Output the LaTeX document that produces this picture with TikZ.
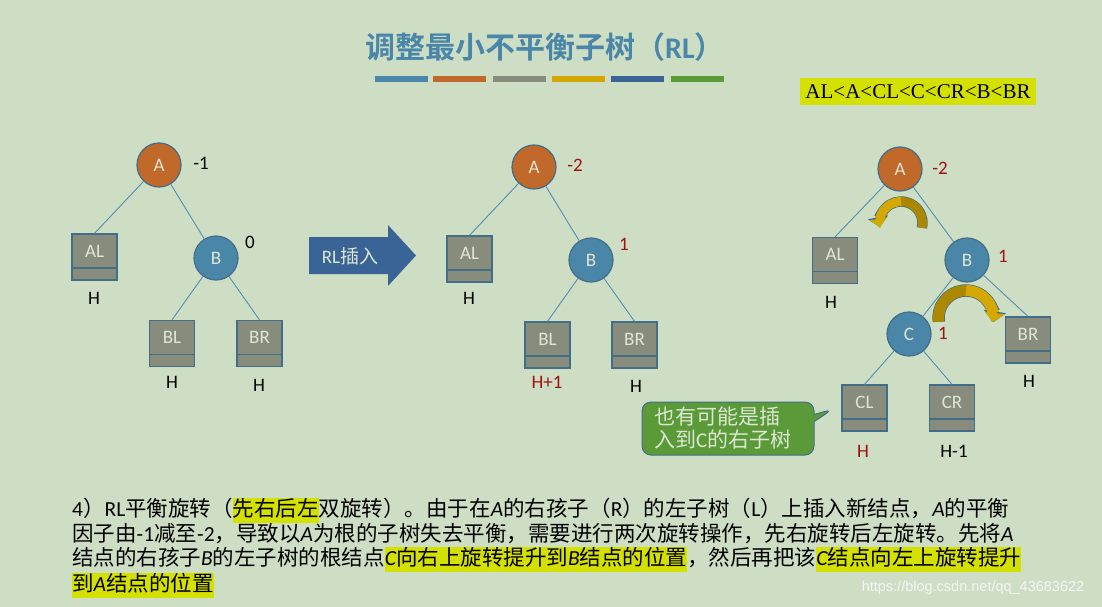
\documentclass[tikz,border=0pt]{standalone}
\usepackage{fontspec}
\setmainfont{Carlito}
\newfontfamily\cjk{Noto Sans CJK SC}[BoldFont={Noto Sans CJK SC Bold}]
\newfontfamily\timesf{Liberation Serif}
\newfontfamily\arialf{Liberation Sans}
\usetikzlibrary{shapes.callouts,arrows.meta}
\definecolor{bgsage}{RGB}{206,222,196}
\definecolor{aorange}{RGB}{192,105,42}
\definecolor{bblue}{RGB}{74,134,168}
\definecolor{nodeline}{RGB}{66,110,136}
\definecolor{linkblue}{RGB}{84,142,176}
\definecolor{boxgray}{RGB}{135,140,124}
\definecolor{nodetext}{RGB}{222,230,212}
\definecolor{darkred}{RGB}{160,16,16}
\definecolor{gold}{RGB}{212,168,0}
\definecolor{darkgold}{RGB}{172,136,0}
\definecolor{arrowblue}{RGB}{58,100,150}
\definecolor{notegreen}{RGB}{90,154,56}
\definecolor{hlyellow}{RGB}{212,224,0}
\definecolor{bargray}{RGB}{135,140,124}
\definecolor{bargreen}{RGB}{90,154,56}
\newcommand\la[1]{{\rmfamily #1}}
\newcommand\ia[1]{{\rmfamily\itshape #1}}
\setlength\fboxsep{0pt}
\newcommand\hl[1]{\colorbox{hlyellow}{\vrule height 18pt depth 7pt width 0pt#1}}
\begin{document}
\begin{tikzpicture}
  [x=1pt,y=1pt,
   tnode/.style={circle,draw=nodeline,line width=1.2pt,minimum size=44pt,inner sep=0pt,
     text=nodetext,font=\fontsize{19}{20}\selectfont},
   anode/.style={tnode,fill=aorange},
   bnode/.style={tnode,fill=bblue},
   subtree/.style={rectangle,draw=nodeline,line width=1.2pt,fill=boxgray,minimum width=45pt,
     inner sep=0pt,text height=23pt,text depth=23pt,text=nodetext,font=\fontsize{19}{20}\selectfont,
     path picture={\draw[nodeline,line width=1.2pt]
       ([yshift=12pt]path picture bounding box.south west) --
       ([yshift=12pt]path picture bounding box.south east);}},
   bf/.style={font=\fontsize{19}{20}\selectfont,text=black,inner sep=1pt},
   bfred/.style={bf,text=darkred},
   link/.style={draw=linkblue,line width=0.9pt},
   turnrim/.style={draw=nodeline,line width=#1+1.4pt},
   line/.style={anchor=base west,inner sep=0pt,text=black,
     font=\cjk\fontsize{21.5}{25}\selectfont}]
  \fill[bgsage] (0,0) rectangle (1102,-607);
  \useasboundingbox (0,0) rectangle (1102,-607);

  % title and bars
  \node[text=bblue,font=\cjk\bfseries\fontsize{30}{32}\selectfont] (title) at (545,-47)
    {调整最小不平衡子树（\la{\bfseries RL}）};
  \foreach \x/\c in {375/bblue,433/aorange,493/bargray,552/gold,611/arrowblue,671/bargreen}
    \fill[\c] (\x,-76) rectangle ++(53,-6);
  \node[fill=hlyellow,minimum width=236pt,minimum height=27pt,inner sep=0pt,
    font=\timesf\fontsize{21}{22}\selectfont] (order) at (918,-91.5) {AL<A<CL<C<CR<B<BR};

  % tree 1
  \node[anode] (a1) at (159,-165) {A};
  \node[bnode] (b1) at (216,-258) {B};
  \node[subtree] (al1) at (94.5,-257) {AL};
  \node[subtree] (bl1) at (172,-343.5) {BL};
  \node[subtree] (br1) at (259.5,-343.5) {BR};
  \node[bf] (fa1) at (201,-163) {-1};
  \node[bf] (fb1) at (250,-242) {0};
  \node[bf] (hal1) at (94,-298) {H};
  \node[bf] (hbl1) at (172,-382) {H};
  \node[bf] (hbr1) at (259,-385) {H};
  \draw[link] (a1) -- (al1.north);
  \draw[link] (a1) -- (b1);
  \draw[link] (b1) -- (bl1.north);
  \draw[link] (b1) -- (br1.north);

  % insert arrow
  \fill[arrowblue] (309,-237) -- (388,-237) -- (388,-225) -- (416,-255.5) -- (388,-286)
    -- (388,-274) -- (309,-274) -- cycle;
  \node[text=nodetext,font=\fontsize{19}{20}\selectfont] (ins) at (350,-256) {RL{\cjk 插入}};

  % tree 2
  \node[anode] (a2) at (534,-167) {A};
  \node[bnode] (b2) at (591,-260) {B};
  \node[subtree] (al2) at (469.5,-259) {AL};
  \node[subtree] (bl2) at (547.5,-345) {BL};
  \node[subtree] (br2) at (634.5,-345) {BR};
  \node[bfred] (fa2) at (575,-165) {-2};
  \node[bfred] (fb2) at (624,-244) {1};
  \node[bf] (hal2) at (469,-298) {H};
  \node[bfred] (hbl2) at (547,-382) {H+1};
  \node[bf] (hbr2) at (636,-386) {H};
  \draw[link] (a2) -- (al2.north);
  \draw[link] (a2) -- (b2);
  \draw[link] (b2) -- (bl2.north);
  \draw[link] (b2) -- (br2.north);

  % tree 3
  \node[anode] (a3) at (900,-169) {A};
  \node[bnode] (b3) at (967,-260) {B};
  \node[bnode] (c3) at (909,-334) {C};
  \node[subtree] (al3) at (835,-260.5) {AL};
  \node[subtree] (br3) at (1028,-340) {BR};
  \node[subtree] (cl3) at (864.5,-408) {CL};
  \node[subtree] (cr3) at (952,-408) {CR};
  \node[bfred] (fa3) at (940,-168) {-2};
  \node[bfred] (fb3) at (1003,-256) {1};
  \node[bfred] (fc3) at (943,-333) {1};
  \node[bf] (hal3) at (831,-302) {H};
  \node[bf] (hbr3) at (1029,-381) {H};
  \node[bfred] (hcl3) at (863,-451) {H};
  \node[bf] (hcr3) at (954,-451) {H-1};
  \draw[link] (a3) -- (al3.north);
  \draw[link] (a3) -- (b3);
  \draw[link] (b3) -- (c3);
  \draw[link] (b3) -- (br3.north);
  \draw[link] (c3) -- (cl3.north);
  \draw[link] (c3) -- (cr3.north);

  % rotation arrows
  \begin{scope}[shift={(901,-223)}]
    \draw[turnrim=9pt,-{Triangle[width=20pt,length=10pt]}] (-13:21.5) arc[start angle=-13,end angle=191,radius=21.5];
    \draw[darkgold,line width=9pt] (-13:21.5) arc[start angle=-13,end angle=91,radius=21.5];
    \draw[gold,line width=9pt,-{Triangle[width=17.5pt,length=8pt]}] (90:21.5) arc[start angle=90,end angle=190,radius=21.5];
  \end{scope}
  \begin{scope}[shift={(966,-318)}]
    \draw[turnrim=11pt,-{Triangle[width=22pt,length=11pt]}] (188:27.5) arc[start angle=188,end angle=-9,radius=27.5];
    \draw[darkgold,line width=11pt] (188:27.5) arc[start angle=188,end angle=89,radius=27.5];
    \draw[gold,line width=11pt,-{Triangle[width=19.5pt,length=9pt]}] (90:27.5) arc[start angle=90,end angle=-8,radius=27.5];
  \end{scope}

  % note
  \coordinate (tip) at (833,-409);
  \node[rectangle callout,callout absolute pointer={(tip)},rounded corners=9pt,
    fill=notegreen,draw=nodeline,line width=1pt,minimum width=172pt,minimum height=53pt,
    inner xsep=12pt,text width=148pt,text=nodetext,align=left,
    font=\cjk\fontsize{21}{23}\selectfont] (note) at (728,-428.5)
    {也有可能是插\\入到\la{C}的右子树};

  % text
  \node[line] (l1) at (72,-516)
    {\la{4}）\la{RL}平衡旋转（\hl{先右后左}双旋转）。由于在\ia{A}的右孩子（\la{R}）的左子树（\la{L}）上插入新结点，\ia{A}的平衡};
  \node[line] (l2) at (72,-541)
    {因子由\la{-1}减至\la{-2}，导致以\ia{A}为根的子树失去平衡，需要进行两次旋转操作，先右旋转后左旋转。先将\ia{A}};
  \node[line] (l3) at (72,-565)
    {结点的右孩子\ia{B}的左子树的根结点\hl{\ia{C}向右上旋转提升到\ia{B}结点的位置}，然后再把该\hl{\ia{C}结点向左上旋转提升}};
  \node[line] (l4) at (72,-591) {\hl{到\ia{A}结点的位置}};
  \node[text=white!92!gray,font=\arialf\fontsize{14.5}{16}\selectfont] (mark) at (973,-588)
    {https://blog.csdn.net/qq\_43683622};
\end{tikzpicture}
\end{document}
